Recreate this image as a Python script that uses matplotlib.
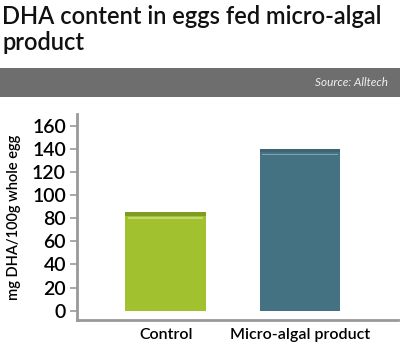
import matplotlib.pyplot as plt
from matplotlib.patches import Rectangle

# data
categories = ['Control', 'Micro-algal product']
dha_values = [85, 140]
bar_colors = ['#a2c12e', '#457282']
top_colors = ['#7e9c22', '#3b6474']
y_ticks = [0, 20, 40, 60, 80, 100, 120, 140, 160]

plt.rcParams['font.family'] = ['Lato', 'DejaVu Sans']

fig = plt.figure(figsize=(4.0, 3.46), dpi=100)
W, H = 400, 346

# title
fig.text(2 / W, 1 - 5 / H, 'DHA content in eggs fed micro-algal\nproduct',
         ha='left', va='top', fontsize=17, weight='semibold', color='#111111',
         linespacing=1.15)

# grey source band
fig.patches.append(Rectangle((0, 1 - 97 / H), 1, 29 / H, transform=fig.transFigure,
                             facecolor='#6e6e6e', edgecolor='none'))
fig.text(388 / W, 1 - 82 / H, 'Source: Alltech', ha='right', va='center',
         fontsize=8.5, style='italic', color='#f0f0f0')

# axes
ax = fig.add_axes([77 / W, 1 - 320 / H, (398 - 77) / W, (320 - 114) / H])
x = range(len(categories))
bars = ax.bar(x, dha_values, width=0.6, color=bar_colors, edgecolor='none')
# darker cap + light highlight strip like the glossy bars
for b, tc in zip(bars, top_colors):
    ax.add_patch(Rectangle((b.get_x(), b.get_height() - 3), b.get_width(), 3,
                           facecolor=tc, edgecolor='none'))
    ax.add_patch(Rectangle((b.get_x() + 0.02, b.get_height() - 5.5), b.get_width() - 0.04, 1.2,
                           facecolor='white', alpha=0.35, edgecolor='none'))

ax.set_xlim(-0.66, 1.73)
ax.set_ylim(-8, 170)
ax.set_yticks(y_ticks)
ax.set_xticks(list(x))
ax.set_xticklabels(categories, fontsize=11.5, weight='semibold')
ax.tick_params(axis='x', length=0, pad=6)
ax.tick_params(axis='y', labelsize=14, length=5, width=1.2, color='#999999', pad=3)
for lbl in ax.get_yticklabels():
    lbl.set_weight('semibold')
for s in ['top', 'right']:
    ax.spines[s].set_visible(False)
for s in ['left', 'bottom']:
    ax.spines[s].set_color('#999999')
    ax.spines[s].set_linewidth(2)

fig.text(14 / W, 1 - 217 / H, 'mg DHA/100g whole egg', rotation=90,
         ha='center', va='center', fontsize=10.5, weight='semibold')

fig.savefig('out.png', dpi=100)
